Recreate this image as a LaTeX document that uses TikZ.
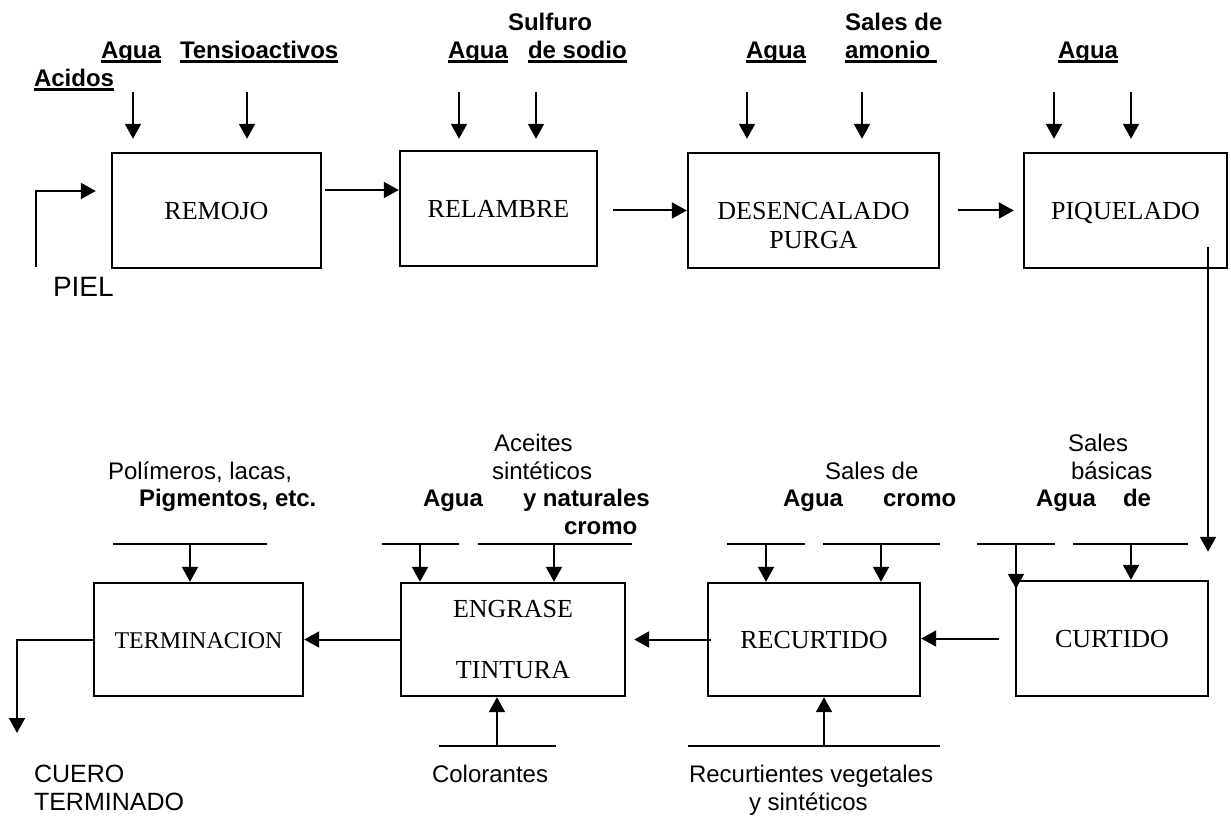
\documentclass[tikz,border=0pt]{standalone}
\usepackage{fontspec}
\setmainfont{Liberation Serif}
\newfontfamily\arial{Liberation Sans}
\usepackage{tikz}
\usetikzlibrary{arrows.meta}
\tikzset{>={Triangle[width=8pt,length=7.5pt]}}
\newsavebox{\subrbox}
\newcommand{\subr}[1]{\sbox\subrbox{#1}\rlap{\rule[-1.8pt]{\wd\subrbox}{1.2pt}}\usebox\subrbox}

\begin{document}
\begin{tikzpicture}[x=0.5pt, y=-0.5pt, line width=1pt, caja/.style={draw, line width=1.2pt, minimum height=57.5pt, inner sep=0pt, font=\fontsize{13}{15}\selectfont}, unalinea/.style={text height=8.6pt, text depth=0pt}, rotulo/.style={anchor=base west, inner sep=0pt, font=\arial\bfseries\fontsize{12}{14}\selectfont}, texto/.style={anchor=base west, inner sep=0pt, font=\arial\fontsize{12}{14}\selectfont}]
    \useasboundingbox (0,0) rectangle (1231,817);

    %Nodes
    \node[caja, unalinea, minimum width=104.5pt](remojo) at (216.5,210.5){REMOJO};
    \node[caja, unalinea, minimum width=98.5pt](relambre) at (498.5,208.5){RELAMBRE};
    \node[caja, unalinea, minimum width=125.5pt](desenc) at (813.5,210.5){DESENCALADO};
    \node[font=\fontsize{13}{15}\selectfont, unalinea](purga) at ([yshift=-14.75pt]desenc.center){PURGA};
    \node[caja, unalinea, minimum width=101.5pt](piquelado) at (1125.5,210.5){PIQUELADO};
    \node[caja, unalinea, minimum width=96pt](curtido) at (1112,638.5){CURTIDO};
    \node[caja, unalinea, minimum width=106pt, minimum height=56.5pt](recurtido) at (814,639.5){RECURTIDO};
    \node[caja, minimum width=112pt, minimum height=56.5pt, align=center](engrase) at (513,639.5){ENGRASE\\[15.5pt]TINTURA};
    \node[caja, unalinea, minimum width=104.5pt, minimum height=56.5pt, font=\fontsize{12}{14}\selectfont](terminacion) at (198.5,639.5){TERMINACION};

    \node[rotulo](agua1) at (100,59){\subr{Agua}};
    \node[rotulo](tensio) at (179,59){\subr{Tensioactivos}};
    \node[rotulo](acidos) at (33,87){\subr{Acidos}};
    \node[rotulo](sulfuro) at (507,31){Sulfuro};
    \node[rotulo](agua2) at (447,59){\subr{Agua}};
    \node[rotulo](sodio) at (527,59){\subr{de sodio}};
    \node[rotulo](agua3) at (745,59){\subr{Agua}};
    \node[rotulo](salesam) at (844,31){Sales de};
    \node[rotulo](amonio) at (844,59){\subr{amonio\ }};
    \node[rotulo](agua4) at (1057,59){\subr{Agua}};
    \node[texto, font=\arial\fontsize{14}{16}\selectfont](piel) at (52,297){PIEL};

    \node[texto](polim) at (107,480){Polímeros, lacas,};
    \node[rotulo](pigm) at (138,507){Pigmentos, etc.};
    \node[texto](aceites) at (493,452){Aceites};
    \node[texto](sintet) at (491,480){sintéticos};
    \node[rotulo](agua5) at (422,507){Agua};
    \node[rotulo](natur) at (522,507){y naturales};
    \node[rotulo](cromo1) at (563,535){cromo};
    \node[texto](salescr) at (824,480){Sales de};
    \node[rotulo](agua6) at (782,507){Agua};
    \node[rotulo](cromo2) at (882,507){cromo};
    \node[texto](sales) at (1067,452){Sales};
    \node[texto](basicas) at (1070,480){básicas};
    \node[rotulo](agua7) at (1035,507){Agua};
    \node[rotulo](de) at (1122,507){de};
    \node[texto](color) at (431,782){Colorantes};
    \node[texto](recurt) at (688,782){Recurtientes vegetales};
    \node[texto](ysint) at (748,810){y sintéticos};
    \node[texto, font=\arial\fontsize{12.5}{14}\selectfont](cuero) at (33,782){CUERO};
    \node[texto, font=\arial\fontsize{12.5}{14}\selectfont](termin) at (33,810){TERMINADO};

    %Free ends
    \coordinate(in1) at (133,92);
    \coordinate(in2) at (247,92);
    \coordinate(in3) at (459,92);
    \coordinate(in4) at (536,92);
    \coordinate(in5) at (747,92);
    \coordinate(in6) at (862,92);
    \coordinate(in7) at (1054,92);
    \coordinate(in8) at (1131,92);
    \coordinate(pielin) at (36,267);
    \coordinate(pielturn) at (36,191);
    \coordinate(bajada) at (1208,247);
    \coordinate(salida) at (17,733);
    \coordinate(b1) at (190,544);
    \coordinate(b2) at (420,544);
    \coordinate(b3) at (554,544);
    \coordinate(b4) at (766,544);
    \coordinate(b5) at (881,544);
    \coordinate(b6) at (1016,544);
    \coordinate(b7) at (1131,544);
    \coordinate(c1) at (497,746);
    \coordinate(c2) at (824,746);

    %Lines
    \draw[->, shorten >=6.5pt] (in1) -- (in1 |- remojo.north);
    \draw[->, shorten >=6.5pt] (in2) -- (in2 |- remojo.north);
    \draw[->, shorten >=5.5pt] (in3) -- (in3 |- relambre.north);
    \draw[->, shorten >=5.5pt] (in4) -- (in4 |- relambre.north);
    \draw[->, shorten >=6.5pt] (in5) -- (in5 |- desenc.north);
    \draw[->, shorten >=6.5pt] (in6) -- (in6 |- desenc.north);
    \draw[->, shorten >=6.5pt] (in7) -- (in7 |- piquelado.north);
    \draw[->, shorten >=6.5pt] (in8) -- (in8 |- piquelado.north);

    \draw[->, shorten >=7.5pt] (pielin) -- (pielturn) -- (pielturn -| remojo.west);
    \draw[->, shorten <=1.5pt] ([yshift=10.25pt]remojo.east) -- ([yshift=10.25pt]remojo.east -| relambre.west);
    \draw[->, shorten <=7.5pt] (relambre.east |- desenc.west) -- (desenc.west);
    \draw[->, shorten <=9pt, shorten >=4.5pt] (desenc.east) -- (piquelado.west);
    \draw[->, shorten >=14pt] (bajada) -- (bajada |- curtido.north);
    \draw[->, shorten <=8pt] (curtido.west) -- (curtido.west -| recurtido.east);
    \draw[->, shorten >=4pt] ([xshift=2pt]recurtido.west) -- (engrase.east);
    \draw[->] (engrase.west) -- (terminacion.east);
    \draw[->] (terminacion.west) -| (salida);

    \draw (113,544) -- (267,544);
    \draw (382,544) -- (459,544);
    \draw (478,544) -- (632,544);
    \draw (727,544) -- (805,544);
    \draw (823,544) -- (940,544);
    \draw (977,544) -- (1055,544);
    \draw (1073,544) -- (1188,544);
    \draw[->] (b1) -- (b1 |- terminacion.north);
    \draw[->] (b2) -- (b2 |- engrase.north);
    \draw[->] (b3) -- (b3 |- engrase.north);
    \draw[->] (b4) -- (b4 |- recurtido.north);
    \draw[->] (b5) -- (b5 |- recurtido.north);
    \draw[->, shorten >=-4.5pt] (b6) -- (b6 |- curtido.north);
    \draw[->] (b7) -- (b7 |- curtido.north);

    \draw (439,746) -- (556,746);
    \draw (688,746) -- (940,746);
    \draw[->] (c1) -- (c1 |- engrase.south);
    \draw[->] (c2) -- (c2 |- recurtido.south);

\end{tikzpicture}
\end{document}
